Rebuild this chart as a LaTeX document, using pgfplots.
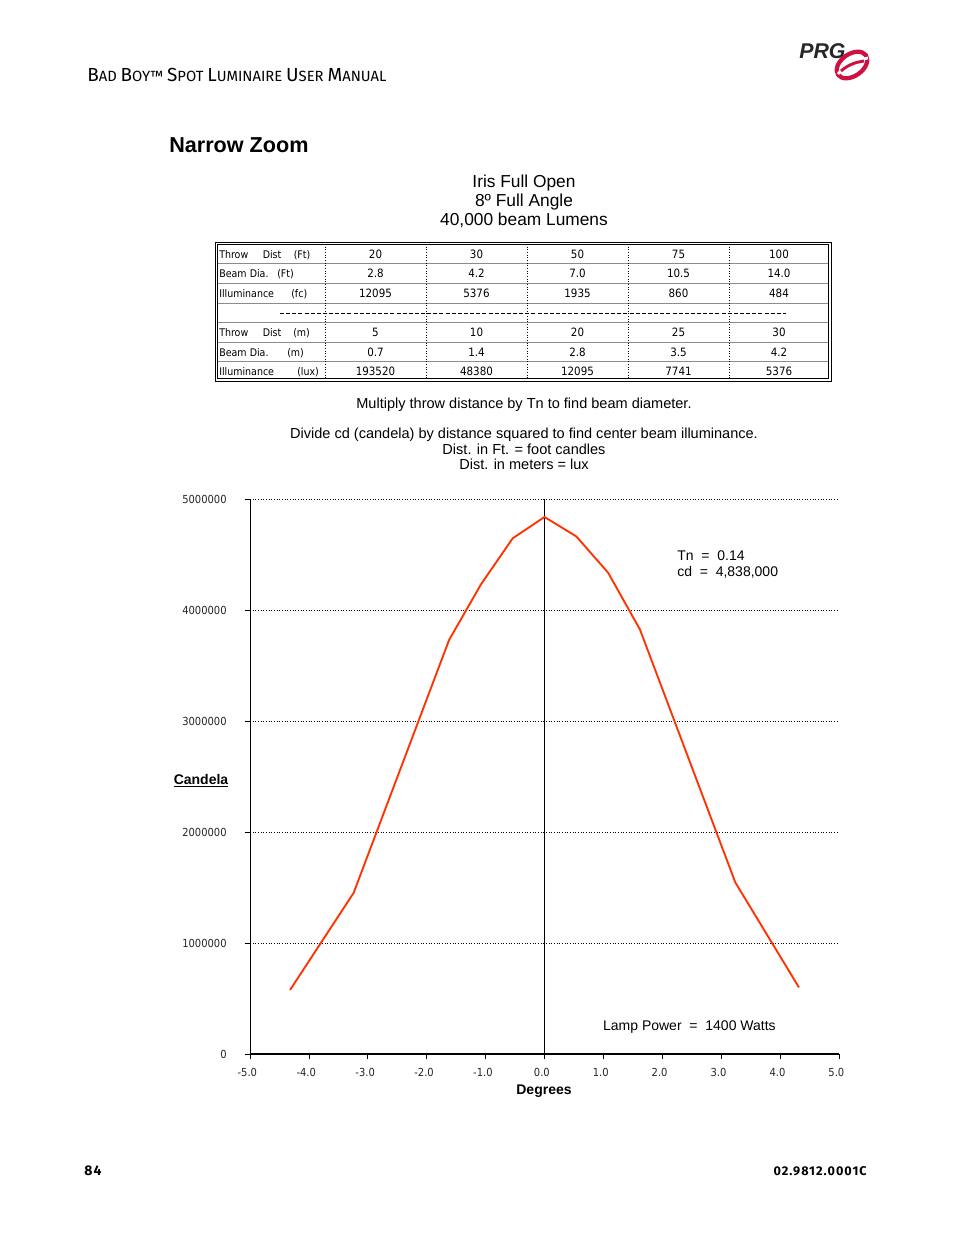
\documentclass[border=0pt]{standalone}
\usepackage{fontspec}
\usepackage{pgfplots}
\pgfplotsset{compat=1.18}
\setmainfont{Liberation Sans}
\newfontfamily\tah{DejaVu Sans Condensed}
\newfontfamily\fira{Fira Sans}
\newfontfamily\firasp{Fira Sans}[LetterSpace=8]
\definecolor{curve}{RGB}{255,51,0}
\definecolor{prgred}{RGB}{206,17,65}
\newcommand\tickfont{\tah\fontsize{8.3pt}{10pt}\selectfont}
\newcommand\tabfont{\tah\fontsize{8.6pt}{9pt}\selectfont}
\newcommand\labfont{\tah\fontsize{7.9pt}{9pt}\selectfont}
\newcommand\txt{\fontsize{10.5pt}{12pt}\selectfont}
\newcommand\txtb{\fontsize{10.9pt}{12pt}\selectfont}
\newcommand\bigc{\fontsize{14.2pt}{14pt}\selectfont}
\newcommand\smc{\fontsize{11.1pt}{14pt}\selectfont}

\begin{document}
\begin{tikzpicture}
\useasboundingbox (0,0) rectangle (715.5pt,-926.25pt);
\fill[white] (0,0) rectangle (715.5pt,-926.25pt);

\begin{axis}[
    scale only axis,
    width=441.75pt, height=416.25pt,
    at={(187.5pt,-790.5pt)}, anchor=south west,
    xmin=-5, xmax=5, ymin=0, ymax=5000000,
    axis x line=bottom, axis y line=left,
    axis line style={-, black, line width=0.6pt},
    x axis line style={line width=1.6pt},
    tick align=outside, major tick length=4pt,
    tick style={black, line width=0.6pt},
    scaled y ticks=false,
    xtick={-5,-4,-3,-2,-1,0,1,2,3,4,5},
    xticklabels={-5.0,-4.0,-3.0,-2.0,-1.0,0.0,1.0,2.0,3.0,4.0,5.0},
    ytick={0,1000000,2000000,3000000,4000000,5000000},
    yticklabels={0,1000000,2000000,3000000,4000000,5000000},
    ymajorgrids,
    grid style={black, line width=0.5pt, dash pattern=on 0.8pt off 1.2pt},
    ticklabel style={font=\tickfont, text=black!85},
    yticklabel style={xshift=-10pt},
    xticklabel style={yshift=-3pt, xshift=-2pt},
]
\draw[black, line width=0.6pt] (axis cs:0,0) -- (axis cs:0,5000000);
\addplot[curve, line width=1.4pt, no marks] coordinates {
    (-4.32,577000) (-3.24,1452000) (-1.62,3730000) (-1.08,4230000)
    (-0.54,4646000) (0,4838000) (0.54,4663000) (1.08,4336000)
    (1.62,3825000) (3.24,1545000) (4.32,600000)
};
\end{axis}

\begin{scope}[x=0.75pt, y=-0.75pt]
% header
\node[anchor=base west, inner sep=0, font=\fira] at (87,81)
  {\bigc B\smc AD \bigc B\smc OY™ \bigc S\smc POT \bigc L\smc UMINAIRE
   \bigc U\smc SER \bigc M\smc ANUAL};
% logo
\node[anchor=base west, inner sep=0, font=\fontsize{16pt}{16pt}\selectfont\bfseries\itshape, black!85] at (799,58) {PRG};
\begin{scope}[shift={(852,65)}, rotate=35]
\draw[prgred, line width=3.2pt] (0,0) ellipse (17 and 11);
\end{scope}
\draw[white, line width=2pt] (838,74) .. controls (848,62) and (858,60) .. (868,58);
\draw[prgred, line width=2.2pt] (841,71) .. controls (849,64) and (857,62) .. (864,61);
% heading
\node[anchor=base west, inner sep=0, font=\fontsize{16.2pt}{17pt}\selectfont\bfseries] at (169,152) {Narrow Zoom};
% titles
\node[anchor=base, inner sep=0, font=\fontsize{13pt}{14pt}\selectfont] at (524,187) {Iris Full Open};
\node[anchor=base, inner sep=0, font=\fontsize{13pt}{14pt}\selectfont] at (524,206) {8º Full Angle};
\node[anchor=base, inner sep=0, font=\fontsize{13pt}{14pt}\selectfont] at (524,225) {40,000 beam Lumens};
% table
\foreach \y in {263,283,303,322,342,361}
  \draw[black!45, line width=0.5pt] (217,\y) -- (829,\y);
\foreach \x in {325,426,527,628,729}
  \draw[black, line width=0.6pt, dash pattern=on 0.8pt off 1.2pt] (\x,244) -- (\x,379);
\draw[black, line width=0.6pt, dash pattern=on 3pt off 1.6pt] (280,313) -- (786,313);
\draw[black, line width=0.7pt] (215,242) rectangle (831,381);
\draw[black, line width=0.5pt] (217.5,244.5) rectangle (828.5,378.5);
\foreach \wa/\xa/\wb/\xb/\wc/\xc/\a/\b/\c/\d/\e/\yy in {
    Throw/219/Dist/262.5/(Ft)/293.5/20/30/50/75/100/258,
    Beam/219/Dia./249.5/(Ft)/277/2.8/4.2/7.0/10.5/14.0/277.5,
    Illuminance/219//250/(fc)/291/12095/5376/1935/860/484/297.5,
    Throw/219/Dist/262.5/(m)/293/5/10/20/25/30/336.5,
    Beam/219/Dia./249.5/(m)/287/0.7/1.4/2.8/3.5/4.2/356,
    Illuminance/219//250/(lux)/297/193520/48380/12095/7741/5376/375.5}{
  \node[anchor=base west, inner sep=0, font=\labfont] at (\xa,\yy) {\wa};
  \node[anchor=base west, inner sep=0, font=\labfont] at (\xb,\yy) {\wb};
  \node[anchor=base west, inner sep=0, font=\labfont] at (\xc,\yy) {\wc};
  \node[anchor=base, inner sep=0, font=\tabfont] at (375.5,\yy) {\a};
  \node[anchor=base, inner sep=0, font=\tabfont] at (476.5,\yy) {\b};
  \node[anchor=base, inner sep=0, font=\tabfont] at (577.5,\yy) {\c};
  \node[anchor=base, inner sep=0, font=\tabfont] at (678.5,\yy) {\d};
  \node[anchor=base, inner sep=0, font=\tabfont] at (779,\yy) {\e};
}
% notes
\node[anchor=base, inner sep=0, font=\txtb] at (524,408) {Multiply throw distance by Tn to find beam diameter.};
\node[anchor=base, inner sep=0, font=\txtb] at (524,438) {Divide cd (candela) by distance squared to find center beam illuminance.};
\node[anchor=base, inner sep=0, font=\txtb] at (524,454) {Dist. in Ft. = foot candles};
\node[anchor=base, inner sep=0, font=\txtb] at (524,469) {Dist. in meters = lux};
% chart texts
\node[anchor=base west, inner sep=0, font=\txt] at (677,560) {Tn\ \ =\ \ 0.14};
\node[anchor=base west, inner sep=0, font=\txt] at (677,576) {cd\ \ =\ \ 4,838,000};
\node[anchor=base east, inner sep=0, font=\txt] at (776,1030) {Lamp Power\ \ =\ \ 1400 Watts};
\node[anchor=base, inner sep=0, font=\txt\bfseries] at (201,784) {\underline{Candela}};
\node[anchor=base, inner sep=0, font=\txt\bfseries] at (544,1094) {Degrees};
% footer
\node[anchor=base west, inner sep=0, font=\firasp\fontsize{10.5pt}{11pt}\selectfont\bfseries] at (84,1175) {84};
\node[anchor=base east, inner sep=0, font=\firasp\fontsize{9.5pt}{10pt}\selectfont\bfseries] at (867,1175) {02.9812.0001C};
\end{scope}
\end{tikzpicture}
\end{document}
